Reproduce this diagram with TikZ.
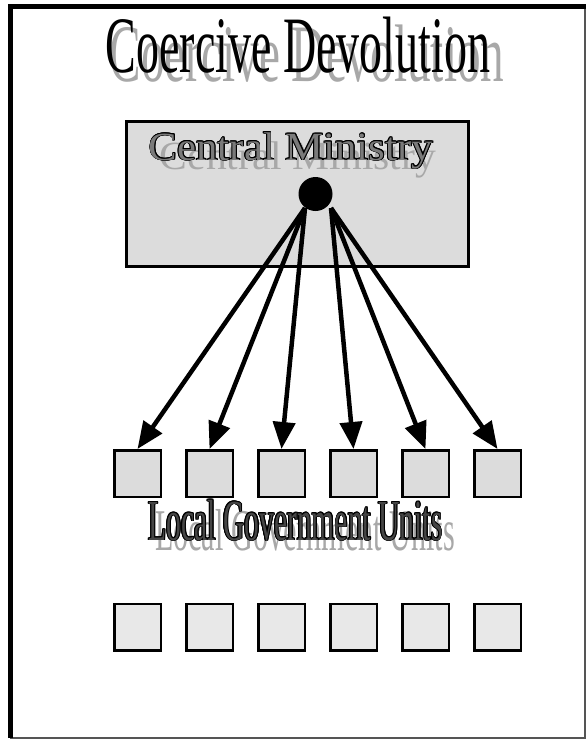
\documentclass[tikz,border=0pt]{standalone}
\usepackage{fontspec}
\usepackage{graphicx}
\setmainfont{Liberation Serif}
\usetikzlibrary{arrows.meta}
\definecolor{boxgray}{HTML}{DCDCDC}
\definecolor{lightsq}{HTML}{E8E8E8}
\definecolor{shadowgray}{HTML}{A8A8A8}
\definecolor{cmfill}{HTML}{7A7A7A}
\definecolor{lgufill}{HTML}{454545}
\definecolor{framegray}{HTML}{555555}
\newcommand\outlinedtext[4]{%
  \foreach \ang [count=\k] in {0,30,...,330}{%
    \node[txt, text=black, name=#1o\k] at ([shift={(\ang:0.9)}]#2) {#4};}
  \node[txt, text=#3, name=#1] at (#2) {#4};}
\begin{document}
\begin{tikzpicture}[x=1pt,y=-1pt,
  txt/.style={inner sep=0pt, anchor=base},
  unitsq/.style={draw=black, line width=2.5pt, minimum size=46.5pt, inner sep=0pt},
  toparrow/.style={line width=4.5pt, -{Triangle[length=27pt,width=22pt]}}]
\useasboundingbox (0,0) rectangle (586,740);
\fill[white] (0,0) rectangle (586,740);
% frame
\draw[line width=1.3pt, draw=framegray] (11,7) rectangle (585,738);
\fill[black] (8,4) rectangle (586,9);
\fill[black] (8,4) rectangle (13,738);
% title
\node[txt, text=shadowgray, name=titleshadow] at (307,81)
  {\fontsize{80}{86}\selectfont\scalebox{0.59}[1.02]{Coercive Devolution}};
\node[txt, text=black, name=title] at (298,72)
  {\fontsize{80}{86}\selectfont\scalebox{0.575}[1]{Coercive Devolution}};
% central ministry box
\node[draw=black, line width=3pt, fill=boxgray, minimum width=342pt, minimum height=145pt,
  inner sep=0pt, name=cm] at (297.5,194) {};
\node[txt, text=shadowgray, name=cmshadow] at (298,169)
  {\fontsize{40}{46}\selectfont\scalebox{1.04}[1]{Central Ministry}};
\outlinedtext{cmtext}{291,160}{cmfill}{\fontsize{40}{46}\selectfont\scalebox{1.07}[1]{Central Ministry}}
% hub
\coordinate (sl) at (305,208);
\coordinate (sr) at (331,208);
% unit squares
\foreach \i/\x in {1/137.5,2/209.5,3/281.5,4/353.5,5/425.5,6/497.5}{
  \node[unitsq, fill=boxgray, name=u\i] at (\x,473.5) {};
  \node[unitsq, fill=lightsq, name=v\i] at (\x,627) {};
}
\foreach \i in {1,2,3}{\draw[toparrow] (sl) -- (u\i.north);}
\foreach \i in {4,5,6}{\draw[toparrow] (sr) -- (u\i.north);}
\node[circle, fill=black, minimum size=34pt, inner sep=0pt, name=hub] at (315.5,194) {};
% local government units label
\node[txt, text=shadowgray, name=lgushadow] at (305,550)
  {\fontsize{58}{64}\selectfont\scalebox{0.52}[1.02]{Local Government Units}};
\outlinedtext{lgu}{295.5,540}{lgufill}{\fontsize{58}{64}\selectfont\scalebox{0.51}[1]{Local Government Units}}
\end{tikzpicture}
\end{document}
